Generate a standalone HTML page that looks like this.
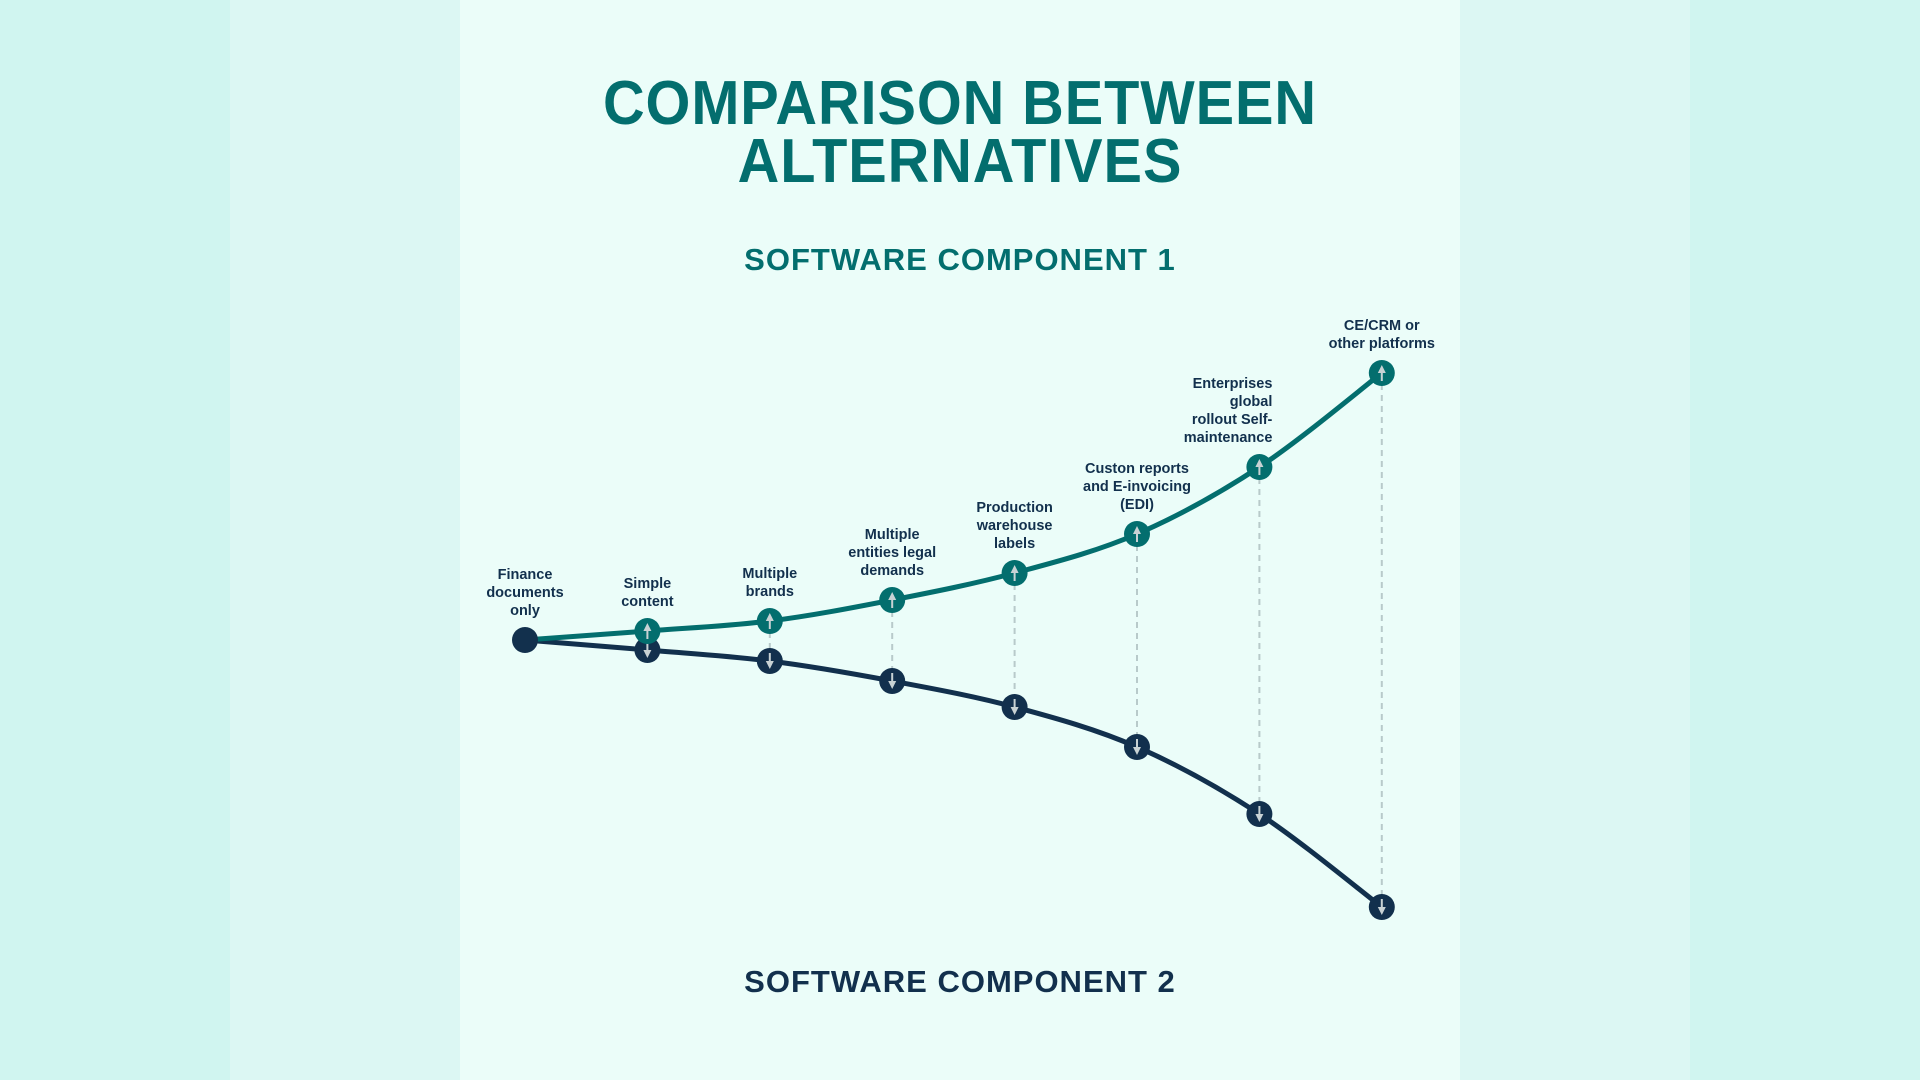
<!DOCTYPE html>
<html><head><meta charset="utf-8"><style>
html,body{margin:0;padding:0;width:1920px;height:1080px;overflow:hidden;background:#d0f5f0;font-family:"Liberation Sans",sans-serif}
.band{position:absolute;top:0;height:1080px}
.t{position:absolute;left:460px;width:1000px;text-align:center;font-weight:bold;transform-origin:50% 50%}
</style></head><body>
<div class="band" style="left:0;width:230px;background:#d0f5f0"></div>
<div class="band" style="left:230px;width:230px;background:#dcf7f3"></div>
<div class="band" style="left:460px;width:1000px;background:#ebfdf9"></div>
<div class="band" style="left:1460px;width:230px;background:#dcf7f3"></div>
<div class="band" style="left:1690px;width:230px;background:#d0f5f0"></div>
<div class="t" style="top:75px;font-size:62px;line-height:58px;color:#036e6e;letter-spacing:1px;transform:scaleX(0.93)">COMPARISON BETWEEN<br>ALTERNATIVES</div>
<div class="t" style="top:241px;font-size:31px;line-height:38px;color:#036e6e;letter-spacing:1px;transform:scaleX(1.0)">SOFTWARE COMPONENT 1</div>
<div class="t" style="top:963px;font-size:31px;line-height:38px;color:#12304d;letter-spacing:1px;transform:scaleX(1.0)">SOFTWARE COMPONENT 2</div>
<svg id="chart" width="1920" height="1080" style="position:absolute;left:0;top:0"></svg>
<script>
const categories = ["Finance documents only","Simple content","Multiple brands","Multiple entities legal demands","Production warehouse labels","Custon reports and E-invoicing (EDI)","Enterprises global rollout Self-maintenance","CE/CRM or other platforms"];
const labelLines = [["Finance","documents","only"],["Simple","content"],["Multiple","brands"],["Multiple","entities legal","demands"],["Production","warehouse","labels"],["Custon reports","and E-invoicing","(EDI)"],["Enterprises","global","rollout Self-","maintenance"],["CE/CRM or","other platforms"]];
const component1 = [0, 0.9, 1.9, 4.0, 6.7, 10.6, 17.3, 26.7];
const component2 = [0, -1.0, -2.1, -4.1, -6.7, -10.7, -17.4, -26.7];
const NS="http://www.w3.org/2000/svg";
const svg=document.getElementById('chart');
const xS=i=>525+i*122.4;
const yS=v=>640-v*10;
function mk(t,a){const e=document.createElementNS(NS,t);for(const k in a)e.setAttribute(k,a[k]);svg.appendChild(e);return e;}
function path(vals){
  const p=vals.map((v,i)=>[xS(i),yS(v)]);
  let d=`M${p[0][0]},${p[0][1]}`;
  for(let i=0;i<p.length-1;i++){
    const p0=p[Math.max(0,i-1)],p1=p[i],p2=p[i+1],p3=p[Math.min(p.length-1,i+2)];
    const c1=[p1[0]+(p2[0]-p0[0])/6,p1[1]+(p2[1]-p0[1])/6];
    const c2=[p2[0]-(p3[0]-p1[0])/6,p2[1]-(p3[1]-p1[1])/6];
    d+=` C${c1[0]},${c1[1]} ${c2[0]},${c2[1]} ${p2[0]},${p2[1]}`;
  }
  return d;
}
for(let i=1;i<categories.length;i++){
  const l=mk('line',{x1:xS(i),x2:xS(i),y1:yS(component1[i]),y2:yS(component2[i]),stroke:'#b8caca','stroke-width':2,'stroke-dasharray':'6,5'});
  
  
}
const l2=mk('path',{d:path(component2),fill:'none',stroke:'#12304d','stroke-width':5});


const l1=mk('path',{d:path(component1),fill:'none',stroke:'#036e6e','stroke-width':5});


for(let i=1;i<categories.length;i++){
  const x=xS(i),y1=yS(component1[i]),y2=yS(component2[i]);
  const d2=mk('circle',{cx:x,cy:y2,r:13,fill:'#12304d'});
  
  
  const a2=mk('path',{d:`M${x-4},${y2} L${x+4},${y2} L${x},${y2+8} Z M${x-1},${y2-8} h2 v8 h-2 Z`,fill:'#c8d2d4'});
  
  
  const d1=mk('circle',{cx:x,cy:y1,r:13,fill:'#036e6e'});
  
  
  const a1=mk('path',{d:`M${x-4},${y1} L${x+4},${y1} L${x},${y1-8} Z M${x-1},${y1} h2 v8 h-2 Z`,fill:'#c8d2d4'});
  
  
}
const s=mk('circle',{cx:xS(0),cy:yS(0),r:13,fill:'#12304d'});


for(let i=0;i<categories.length;i++){
  const lines=labelLines[i];
  const top=yS(component1[i])-25-(lines.length-1)*18;
  const anchorRight=(i===6);
  const tx=anchorRight?xS(i)+13:xS(i);
  const t=mk('text',{x:tx,y:top,'text-anchor':anchorRight?'end':'middle','font-size':14.5,'font-weight':'bold',fill:'#12304d','font-family':'Liberation Sans, sans-serif'});
  
  
  lines.forEach((ln,j)=>{const ts=document.createElementNS(NS,'tspan');ts.setAttribute('x',tx);ts.setAttribute('dy',j?18:0);ts.textContent=ln;t.appendChild(ts);});
}
</script>
</body></html>
